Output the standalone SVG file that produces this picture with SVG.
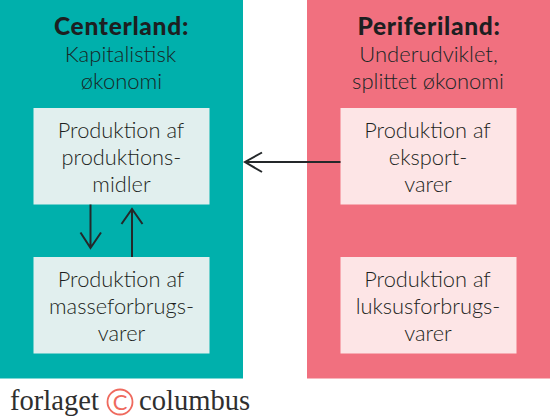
<svg xmlns="http://www.w3.org/2000/svg" width="550" height="419" viewBox="0 0 550 419">
<style>
text{font-family:"Lato","Noto Sans",sans-serif;text-anchor:middle;fill:#1c1f21;font-size:21.8px;font-weight:300}
.h{font-weight:900;font-size:24.5px;letter-spacing:.7px;fill:#1d1f21}
.s{font-weight:300;fill:#182625;font-size:22px}
.p{fill:#00b0ac}.q{fill:#f1707f}
.a{fill:#e1efee}.b{fill:#fde5e6}
.c{fill:none;stroke:#24282a;stroke-width:2}
.l{font-family:"Liberation Serif",serif;font-size:28.6px;font-weight:400;fill:#2f2f2f;text-anchor:start}
</style>
<rect width="550" height="419" fill="#fff"/>
<g id="centerland">
<rect class="p" width="243" height="378.5"/>
<text class="h" x="121.500" y="35">Centerland:</text>
<text class="s" x="120.500" y="62">Kapitalistisk</text>
<text class="s" x="121.500" y="89">økonomi</text>
</g>
<g id="periferiland">
<rect class="q" x="307" width="243" height="378.5"/>
<text class="h" x="429" y="35">Periferiland:</text>
<text class="s" x="428.500" y="62">Underudviklet,</text>
<text class="s" x="428" y="89">splittet økonomi</text>
</g>
<g id="produktionsmidler">
<rect class="a" x="33.500" y="108" width="176" height="96.500"/>
<text x="121" y="138">Produktion af</text>
<text x="121.500" y="165">produktions-</text>
<text x="121.500" y="191.500">midler</text>
</g>
<g id="masseforbrugsvarer">
<rect class="a" x="33.500" y="257" width="176" height="96.500"/>
<text x="121" y="287">Produktion af</text>
<text x="121.500" y="314">masseforbrugs-</text>
<text x="121.500" y="340.500">varer</text>
</g>
<g id="eksportvarer">
<rect class="b" x="340.500" y="108" width="176" height="96.500"/>
<text x="427.500" y="138">Produktion af</text>
<text x="428" y="165">eksport-</text>
<text x="428" y="191.500">varer</text>
</g>
<g id="luksusforbrugsvarer">
<rect class="b" x="340.500" y="257" width="176" height="96.500"/>
<text x="427.500" y="287">Produktion af</text>
<text x="428" y="314">luksusforbrugs-</text>
<text x="428" y="340.500">varer</text>
</g>
<g id="connectors">
<path class="c" d="M340.500 162H245M262 152.500L245 162L262 172"/>
<path class="c" d="M90.500 204.500V248M80.500 232.500L90.500 248L101 232.500"/>
<path class="c" d="M132 257V209M121.500 224L132 209L142.500 224"/>
</g>
<g id="logo">
<text class="l" x="10" y="410">forlaget</text>
<text class="l" x="139" y="410">columbus</text>
<circle cx="120" cy="402" r="12.500" fill="none" stroke="#ef6a5e" stroke-width="1.8"/>
<text x="120" y="410" style="font-size:22px;fill:#ef6a5e;font-weight:400">C</text>
</g>
</svg>
